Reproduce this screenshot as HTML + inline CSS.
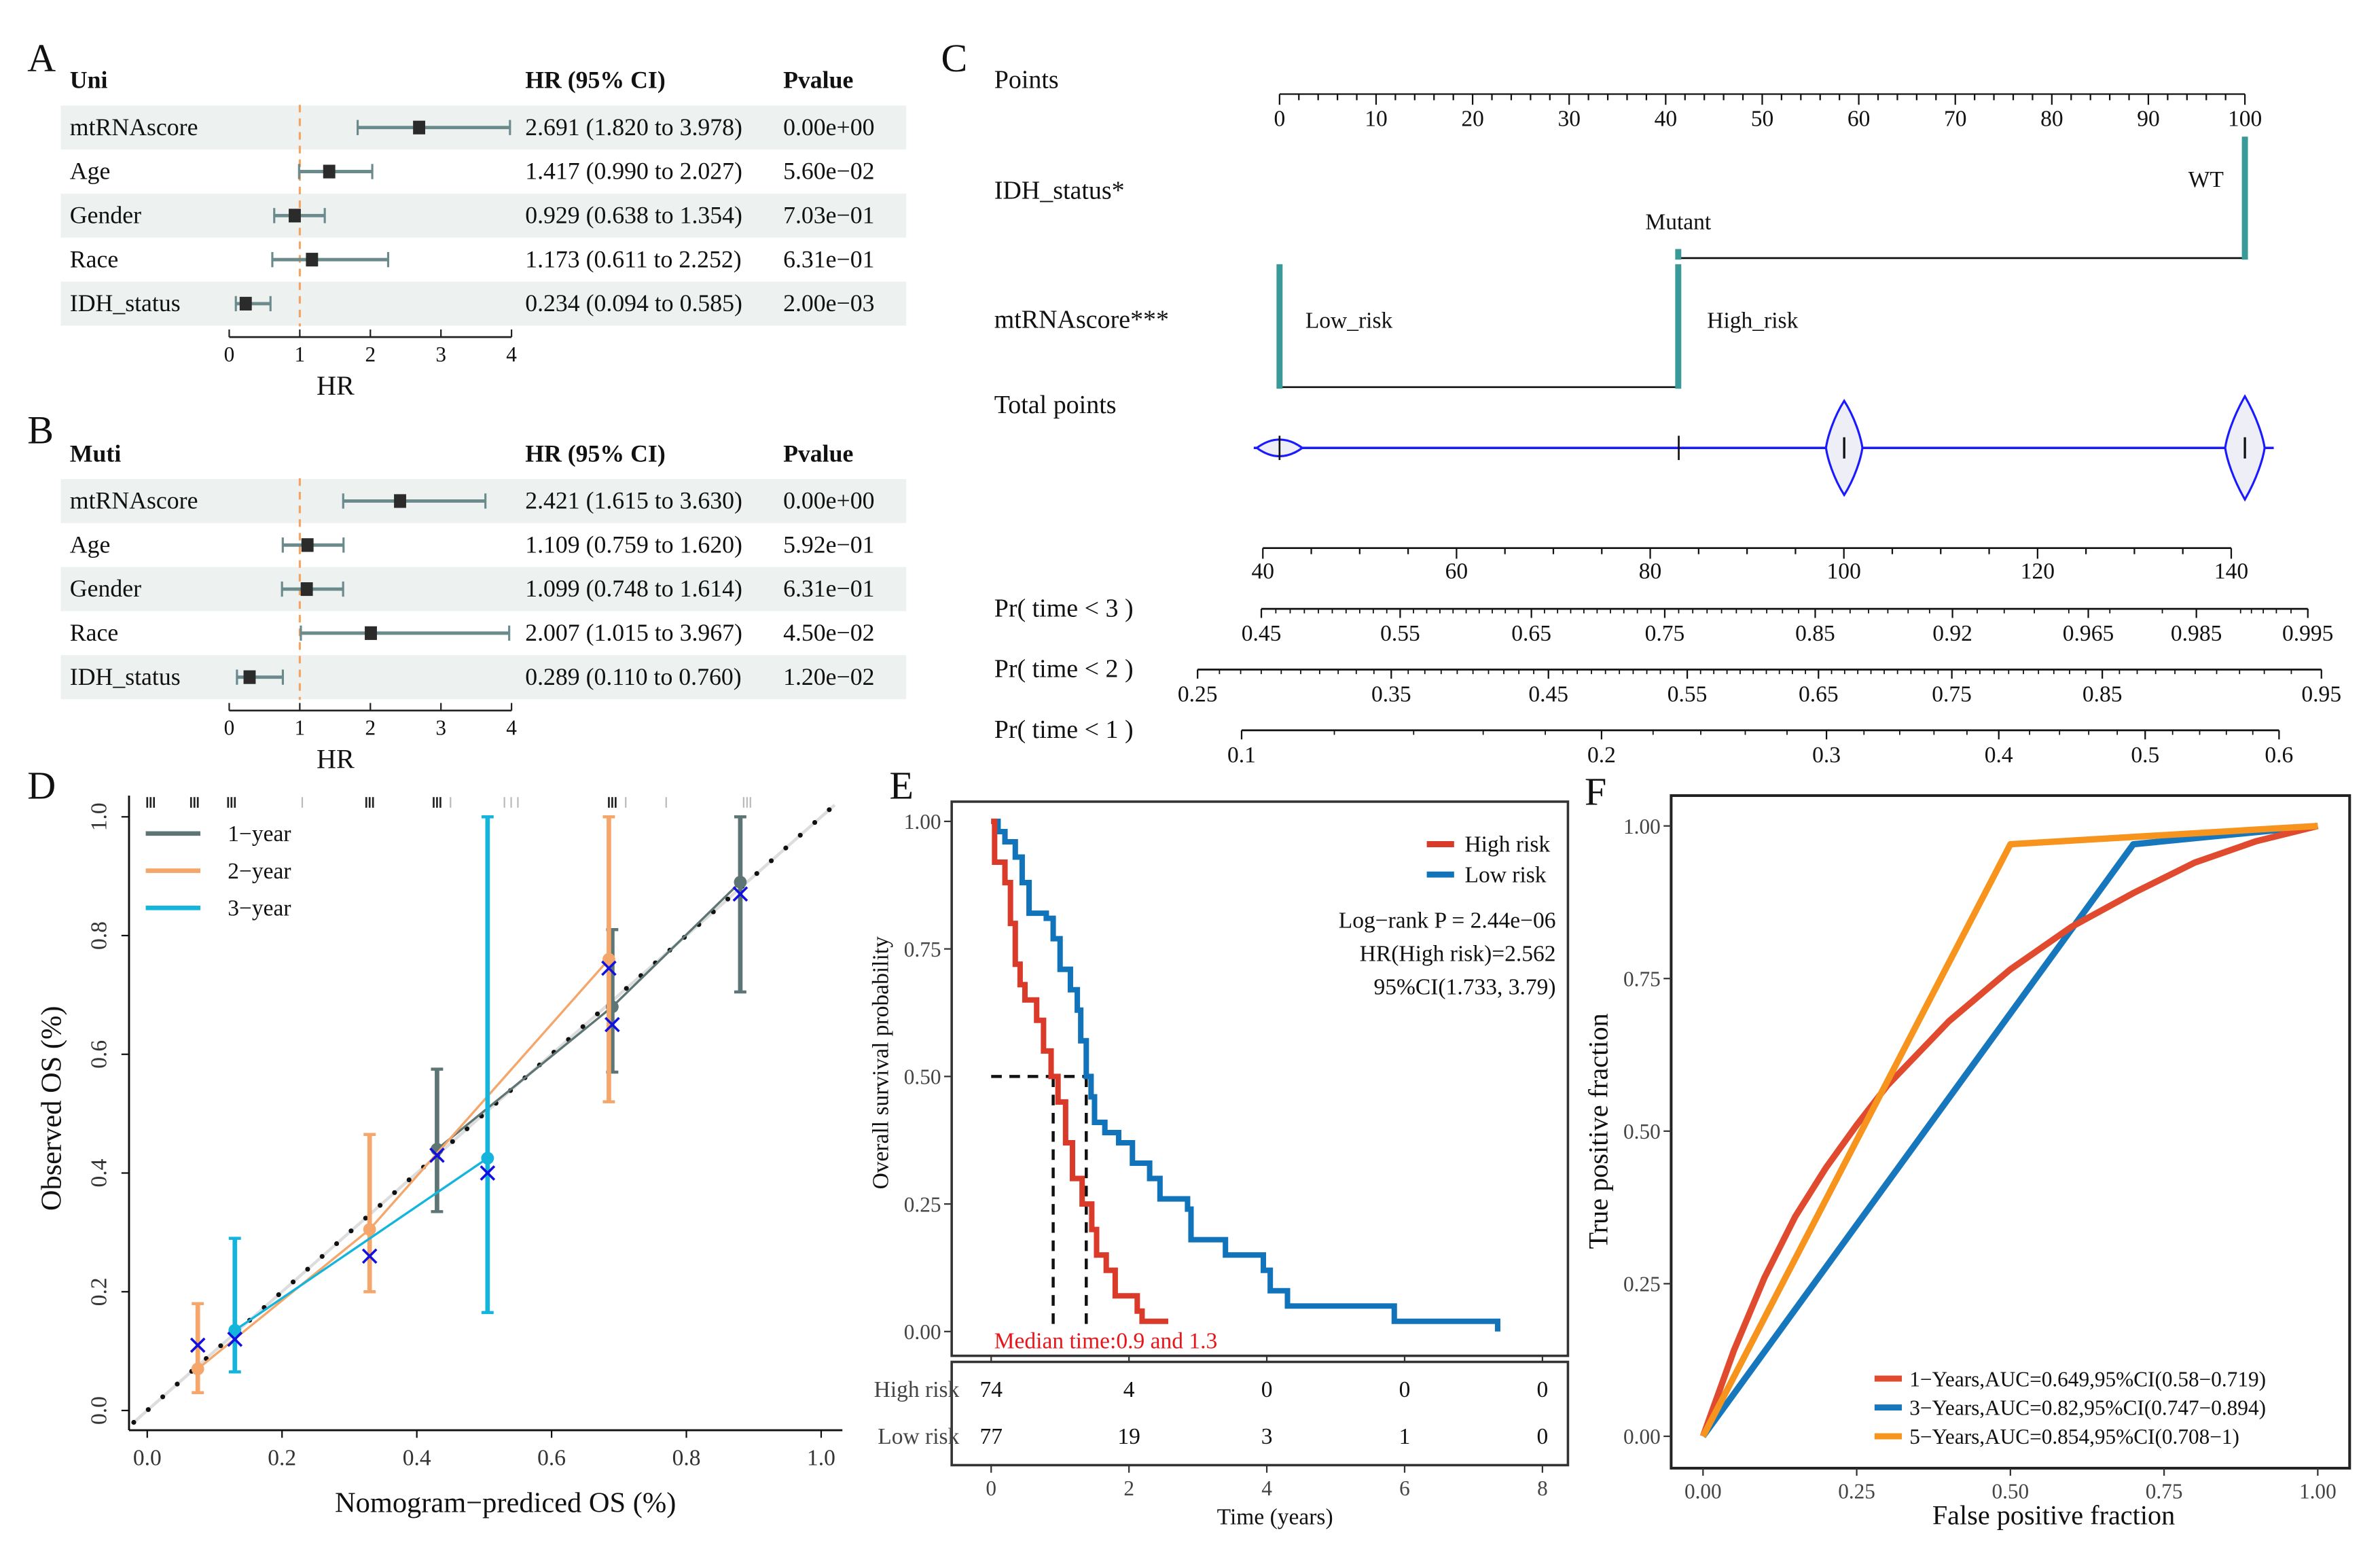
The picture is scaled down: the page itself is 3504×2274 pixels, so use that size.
<!DOCTYPE html>
<html><head><meta charset="utf-8">
<style>
html,body{margin:0;padding:0;background:#fff;}
svg{display:block;font-family:"Liberation Serif","DejaVu Serif",serif;}
</style></head>
<body>
<svg id="fig" xmlns="http://www.w3.org/2000/svg" width="3504" height="2274" viewBox="0 0 1568 1017.6"></svg>
<script>
// ---------- Forest data ----------
const uniLabels = ["mtRNAscore","Age","Gender","Race","IDH_status"];
const uniHR = [2.691,1.417,0.929,1.173,0.234];
const uniLo = [1.820,0.990,0.638,0.611,0.094];
const uniHi = [3.978,2.027,1.354,2.252,0.585];
const uniP = ["0.00e+00","5.60e\u221202","7.03e\u221201","6.31e\u221201","2.00e\u221203"];
const mutiLabels = ["mtRNAscore","Age","Gender","Race","IDH_status"];
const mutiHR = [2.421,1.109,1.099,2.007,0.289];
const mutiLo = [1.615,0.759,0.748,1.015,0.110];
const mutiHi = [3.630,1.620,1.614,3.967,0.760];
const mutiP = ["0.00e+00","5.92e\u221201","6.31e\u221201","4.50e\u221202","1.20e\u221202"];
const hrTicks = [0,1,2,3,4];
// ---------- Nomogram data ----------
const pointsTicks = [0,10,20,30,40,50,60,70,80,90,100];
const idhPoints = [41.3,100];
const idhLevels = ["Mutant","WT"];
const mtPoints = [0,41.3];
const mtLevels = ["Low_risk","High_risk"];
const totalTicks = [40,60,80,100,120,140];
const pr3Ticks = [0.45,0.55,0.65,0.75,0.85,0.92,0.965,0.985,0.995];
const pr2Ticks = [0.25,0.35,0.45,0.55,0.65,0.75,0.85,0.95];
const pr1Ticks = [0.1,0.2,0.3,0.4,0.5,0.6];
// ---------- Calibration data ----------
const calTicks = [0,0.2,0.4,0.6,0.8,1.0];
const cal1Pred = [0.43,0.69,0.88];
const cal1Obs = [0.44,0.68,0.89];
const cal1Lo = [0.335,0.57,0.705];
const cal1Hi = [0.575,0.81,1.0];
const cal2Pred = [0.075,0.33,0.685];
const cal2Obs = [0.07,0.305,0.76];
const cal2Lo = [0.03,0.2,0.52];
const cal2Hi = [0.18,0.465,1.0];
const cal3Pred = [0.13,0.505];
const cal3Obs = [0.135,0.425];
const cal3Lo = [0.065,0.165];
const cal3Hi = [0.29,1.0];
const xPred = [0.075,0.13,0.33,0.43,0.505,0.685,0.69,0.88];
const xObs = [0.11,0.12,0.26,0.43,0.40,0.745,0.65,0.87];
const rugDark = [0.0,0.005,0.01,0.065,0.07,0.075,0.12,0.125,0.13,0.325,0.33,0.335,0.425,0.43,0.435,0.685,0.69,0.695];
const rugLight = [0.23,0.45,0.53,0.54,0.55,0.71,0.77,0.885,0.89,0.895];
// ---------- KM data ----------
const hiT = [0.05,0.2,0.28,0.35,0.42,0.49,0.66,0.76,0.87,0.97,1.08,1.18,1.32,1.46,1.53,1.67,1.8,2.12,2.19];
const hiS = [0.92,0.88,0.80,0.72,0.68,0.65,0.61,0.55,0.50,0.45,0.37,0.30,0.25,0.20,0.15,0.12,0.07,0.04,0.02];
const hiEnd = 2.57;
const loT = [0.1,0.2,0.35,0.45,0.55,0.8,0.9,1.0,1.15,1.25,1.3,1.38,1.45,1.5,1.65,1.85,2.05,2.3,2.45,2.85,2.9,3.4,3.95,4.05,4.3,5.85,7.35];
const loS = [0.98,0.96,0.93,0.88,0.82,0.81,0.77,0.71,0.67,0.63,0.57,0.50,0.46,0.41,0.39,0.37,0.33,0.30,0.26,0.24,0.18,0.15,0.12,0.08,0.05,0.02,0.0];
const loEnd = 7.35;
const kmXTicks = [0,2,4,6,8];
const kmYTicks = [0,0.25,0.5,0.75,1.0];
const riskHigh = [74,4,0,0,0];
const riskLow = [77,19,3,1,0];
// ---------- ROC data ----------
const rocTicks = [0,0.25,0.5,0.75,1.0];
const roc1F = [0,0.05,0.1,0.15,0.2,0.25,0.3,0.4,0.5,0.6,0.7,0.8,0.9,1];
const roc1T = [0,0.14,0.26,0.36,0.44,0.51,0.575,0.68,0.765,0.835,0.89,0.94,0.975,1];
const roc3F = [0,0.7,1];
const roc3T = [0,0.97,1];
const roc5F = [0,0.5,1];
const roc5T = [0,0.97,1];
const rocLegend = ["1\u2212Years,AUC=0.649,95%CI(0.58\u22120.719)","3\u2212Years,AUC=0.82,95%CI(0.747\u22120.894)","5\u2212Years,AUC=0.854,95%CI(0.708\u22121)"];

const NS="http://www.w3.org/2000/svg";
const fig=document.getElementById('fig');
function tag(el,name,inter){
  
  
  return el;
}
function mk(t,a,parent){const e=document.createElementNS(NS,t);for(const k in a)e.setAttribute(k,a[k]);(parent||fig).appendChild(e);return e;}
function line(x1,y1,x2,y2,st,w,name,extra){const e=mk('line',Object.assign({x1,y1,x2,y2,stroke:st,'stroke-width':w},extra||{}));return tag(e,name);}
function text(x,y,s,sz,name,extra){const e=mk('text',Object.assign({x,y,'font-size':sz,fill:'#111'},extra||{}));e.textContent=s;return tag(e,name);}

// ---------- Panel labels ----------
[["A",18,47],["B",18,292],["C",620,47],["D",18,526],["E",586,526],["F",1044,530]].forEach(p=>{
  text(p[1],p[2],p[0],26,'panel-label-'+p[0].toLowerCase());
});

// ---------- Forest plots ----------
function forest(y0,title,labels,hr,lo,hi,pv,key){
  const hx=v=>151+v*46.5;
  text(46,y0+5,title,16,key+'-header-title',{'font-weight':'bold'});
  text(346,y0+5,"HR (95% CI)",16,key+'-header-hr',{'font-weight':'bold'});
  text(516,y0+5,"Pvalue",16,key+'-header-pvalue',{'font-weight':'bold'});
  labels.forEach((lab,i)=>{
    const cy=y0+31+i*29;
    if(i%2===0){const r=mk('rect',{x:40,y:cy-14.5,width:557,height:29,fill:'#edf1f0'});tag(r,key+'-row-shade');}
  });
  line(hx(1),y0+16,hx(1),y0+162,'#f4a460',1.4,key+'-reference-line',{'stroke-dasharray':'5,4'});
  labels.forEach((lab,i)=>{
    const cy=y0+31+i*29;
    text(46,cy+5,lab,16,key+'-row-label');
    line(hx(lo[i]),cy,hx(hi[i]),cy,'#6b8a8c',2.2,key+'-ci-line');
    line(hx(lo[i]),cy-5,hx(lo[i]),cy+5,'#6b8a8c',1.4,key+'-ci-cap');
    line(hx(hi[i]),cy-5,hx(hi[i]),cy+5,'#6b8a8c',1.4,key+'-ci-cap');
    const s=mk('rect',{x:hx(hr[i])-4,y:cy-4.5,width:8,height:9,fill:'#2b2b2b'});tag(s,key+'-hr-point');
    text(346,cy+5,hr[i].toFixed(3)+" ("+lo[i].toFixed(3)+" to "+hi[i].toFixed(3)+")",16,key+'-hr-text');
    text(516,cy+5,pv[i],16,key+'-pvalue-text');
  });
  const ay=y0+169;
  line(hx(0),ay,hx(4),ay,'#222',1.2,key+'-x-axis');
  hrTicks.forEach(t=>{line(hx(t),ay,hx(t),ay-5,'#222',1,key+'-x-tick');text(hx(t),ay+16,String(t),14,key+'-x-tick-label',{'text-anchor':'middle'});});
  text(221,ay+38,"HR",18,key+'-x-axis-title',{'text-anchor':'middle'});
}
forest(53,"Uni",uniLabels,uniHR,uniLo,uniHi,uniP,'uni-forest');
forest(299,"Muti",mutiLabels,mutiHR,mutiLo,mutiHi,mutiP,'muti-forest');

// ---------- Nomogram ----------
(function(){
  const px=v=>843+v*6.36;
  const tx=v=>832+(v-40)*6.38;
  const lab=(y,s,n)=>text(655,y,s,17,n);
  lab(58,"Points",'points-label');lab(131,"IDH_status*",'idh-label');lab(216,"mtRNAscore***",'mtrnascore-label');lab(272,"Total points",'total-points-label');
  lab(406,"Pr( time < 3 )",'pr3-label');lab(446,"Pr( time < 2 )",'pr2-label');lab(486,"Pr( time < 1 )",'pr1-label');
  line(px(0),62,px(100),62,'#111',1,'points-axis');
  for(let v=0;v<=100;v+=2){line(px(v),62,px(v),v%10===0?69:66,'#111',1,'points-tick');}
  pointsTicks.forEach(v=>text(px(v),83,String(v),15,'points-tick-label',{'text-anchor':'middle'}));
  line(px(idhPoints[0]),170,px(idhPoints[1]),170,'#111',1.2,'idh-axis');
  line(px(idhPoints[1]),90,px(idhPoints[1]),171,'#3a9a9a',4,'idh-wt-bar');
  line(px(idhPoints[0]),164,px(idhPoints[0]),171,'#3a9a9a',4,'idh-mutant-bar');
  text(px(idhPoints[1])-14,123,idhLevels[1],15,'idh-wt-label',{'text-anchor':'end'});
  text(px(idhPoints[0]),151,idhLevels[0],15,'idh-mutant-label',{'text-anchor':'middle'});
  line(px(mtPoints[0]),255,px(mtPoints[1]),255,'#111',1.2,'mtrnascore-axis');
  line(px(mtPoints[0]),174,px(mtPoints[0]),256,'#3a9a9a',4,'mtrnascore-low-bar');
  line(px(mtPoints[1]),174,px(mtPoints[1]),256,'#3a9a9a',4,'mtrnascore-high-bar');
  text(px(mtPoints[0])+17,216,mtLevels[0],15,'mtrnascore-low-label');
  text(px(mtPoints[1])+19,216,mtLevels[1],15,'mtrnascore-high-label');
  line(826,295,1498,295,'#1a1aff',1.6,'total-points-line');
  const v1=mk('path',{d:`M828,295 Q843,284 858,295 Q843,306 828,295 Z`,fill:'#eeeef6',stroke:'#1a1aff','stroke-width':1.4});tag(v1,'violin-low');
  line(843,287,843,303,'#111',1.2,'median-mark');
  line(1106,287,1106,303,'#111',1.2,'median-mark');
  const v2=mk('path',{d:`M1215,264 C1222,275 1226,288 1227,295 C1226,302 1222,315 1215,326 C1208,315 1204,302 1203,295 C1204,288 1208,275 1215,264 Z`,fill:'#eeeef6',stroke:'#1a1aff','stroke-width':1.4});tag(v2,'violin-mid');
  line(1215,288,1215,302,'#111',1.5,'median-mark');
  const v3=mk('path',{d:`M1479,261 C1487,275 1491,288 1492,295 C1491,302 1487,315 1479,329 C1471,315 1467,302 1466,295 C1467,288 1471,275 1479,261 Z`,fill:'#eeeef6',stroke:'#1a1aff','stroke-width':1.4});tag(v3,'violin-high');
  line(1479,288,1479,302,'#111',1.5,'median-mark');
  line(tx(40),361,tx(140),361,'#111',1.2,'total-points-axis');
  for(let v=40;v<=140;v+=5){line(tx(v),361,tx(v),v%20===0?368:365,'#111',1,'total-points-tick');}
  totalTicks.forEach(v=>text(tx(v),381,String(v),15,'total-points-tick-label',{'text-anchor':'middle'}));
  const g=p=>Math.log(-Math.log(1-p));
  function prAxis(y,ticks,x0,p0,key,minor){
    const f=p=>x0+316*(g(p)-g(p0));
    const pmin=ticks[0],pmax=ticks[ticks.length-1];
    line(f(pmin),y,f(pmax),y,'#111',1.2,key+'-axis');
    minor.forEach(p=>{if(p>=pmin-1e-9&&p<=pmax+1e-9)line(f(p),y,f(p),y+3,'#111',0.8,key+'-minor-tick');});
    ticks.forEach(p=>{line(f(p),y,f(p),y+6,'#111',1,key+'-tick');text(f(p),y+21,String(p),15,key+'-tick-label',{'text-anchor':'middle'});});
  }
  const m3=[];for(let p=0.45;p<0.99;p+=0.01)m3.push(+p.toFixed(3));for(let p=0.99;p<=0.995;p+=0.001)m3.push(+p.toFixed(4));
  const m2=[];for(let p=0.25;p<=0.95;p+=0.01)m2.push(+p.toFixed(3));
  const m1=[];for(let p=0.1;p<=0.6;p+=0.02)m1.push(+p.toFixed(3));
  prAxis(401,pr3Ticks,831,0.45,'pr3',m3);
  prAxis(441,pr2Ticks,789,0.25,'pr2',m2);
  prAxis(481,pr1Ticks,818,0.1,'pr1',m1);
})();

// ---------- Calibration (D) ----------
(function(){
  const X=v=>97+v*444, Y=v=>929-v*391;
  line(85,524,85,942,'#111',1.3,'calib-y-axis');
  line(85,942,555,942,'#111',1.3,'calib-x-axis');
  calTicks.forEach(t=>{
    line(X(t),942,X(t),947,'#111',1,'calib-x-tick');
    text(X(t),965,t.toFixed(1),15,'calib-x-tick-label',{'text-anchor':'middle','fill':'#333'});
    line(85,Y(t),80,Y(t),'#111',1,'calib-y-tick');
    const tl=text(70,Y(t),t.toFixed(1),15,'calib-y-tick-label',{'text-anchor':'middle','fill':'#333'});
    tl.setAttribute('transform',`rotate(-90 70 ${Y(t)})`);
  });
  text(333,996,"Nomogram\u2212prediced OS (%)",19,'calib-x-axis-title',{'text-anchor':'middle'});
  const yt=text(40,730,"Observed OS (%)",19,'calib-y-axis-title',{'text-anchor':'middle'});
  yt.setAttribute('transform','rotate(-90 40 730)');
  rugDark.forEach(v=>line(X(v),525,X(v),532,'#222',1.2,'calib-rug-tick'));
  rugLight.forEach(v=>line(X(v),525,X(v),532,'#bbb',1,'calib-rug-tick-light'));
  line(X(-0.02),Y(-0.02),X(1.02),Y(1.02),'#ddd',2,'ideal-line');
  for(let v=-0.02;v<=1.025;v+=0.0215){const c=mk('circle',{cx:X(v),cy:Y(v),r:1.6,fill:'#111'});tag(c,'ideal-dot');}
  function series(pred,obs,lo,hi,col,key,w){
    const d=pred.map((p,i)=>(i?'L':'M')+X(p)+','+Y(obs[i])).join(' ');
    const pth=mk('path',{d,fill:'none',stroke:col,'stroke-width':1.5});tag(pth,key+'-line');
    pred.forEach((p,i)=>{
      line(X(p),Y(lo[i]),X(p),Y(hi[i]),col,w,key+'-error-bar');
      line(X(p)-4,Y(lo[i]),X(p)+4,Y(lo[i]),col,2,key+'-error-cap');
      line(X(p)-4,Y(hi[i]),X(p)+4,Y(hi[i]),col,2,key+'-error-cap');
      const c=mk('circle',{cx:X(p),cy:Y(obs[i]),r:4.2,fill:col});tag(c,key+'-point');
    });
  }
  series(cal1Pred,cal1Obs,cal1Lo,cal1Hi,'#5e7576','calib-1year',3);
  series(cal2Pred,cal2Obs,cal2Lo,cal2Hi,'#f5a66a','calib-2year',3);
  series(cal3Pred,cal3Obs,cal3Lo,cal3Hi,'#13b5dd','calib-3year',3);
  xPred.forEach((p,i)=>{const cx=X(p),cy=Y(xObs[i]);
    line(cx-4.5,cy-4.5,cx+4.5,cy+4.5,'#1010e0',1.6,'calib-x-marker');
    line(cx-4.5,cy+4.5,cx+4.5,cy-4.5,'#1010e0',1.6,'calib-x-marker');});
  [["1\u2212year",'#5e7576'],["2\u2212year",'#f5a66a'],["3\u2212year",'#13b5dd']].forEach((l,i)=>{
    const y=549+i*24.5;
    line(96,y,132,y,l[1],3,'calib-legend-swatch');
    text(150,y+5,l[0],15,'calib-legend-entry');
  });
})();

// ---------- KM (E) ----------
(function(){
  const X=t=>653+t*45.4, Y=s=>877-s*336;
  const fr=mk('rect',{x:627,y:528,width:406,height:365,fill:'none',stroke:'#333','stroke-width':1.6});tag(fr,'km-plot-frame');
  const fr2=mk('rect',{x:627,y:897,width:406,height:68,fill:'none',stroke:'#333','stroke-width':1.6});tag(fr2,'risk-table-frame');
  kmYTicks.forEach(v=>{line(627,Y(v),622,Y(v),'#333',1,'km-y-tick');text(620,Y(v)+5,v.toFixed(2),14,'km-y-tick-label',{'text-anchor':'end','fill':'#444'});});
  kmXTicks.forEach(v=>{line(X(v),893,X(v),897,'#333',1,'km-x-tick');line(X(v),965,X(v),970,'#333',1,'km-x-tick');text(X(v),985,String(v),14,'km-x-tick-label',{'text-anchor':'middle','fill':'#444'});});
  text(840,1004,"Time (years)",15,'km-x-axis-title',{'text-anchor':'middle'});
  const yl=text(585,700,"Overall survival probability",15,'km-y-axis-title',{'text-anchor':'middle'});
  yl.setAttribute('transform','rotate(-90 585 700)');
  const ml=mk('path',{d:`M${X(0)},${Y(0.5)} H${X(1.38)} M${X(0.9)},${Y(0.5)} V${Y(0)} M${X(1.38)},${Y(0.5)} V${Y(0)}`,stroke:'#111','stroke-width':2,'stroke-dasharray':'7,5',fill:'none'});
  tag(ml,'median-lines');
  function step(T,S,end,col,key){
    let d=`M${X(0)},${Y(1)}`;
    T.forEach((t,i)=>{d+=` H${X(t)} V${Y(S[i])}`;});
    d+=` H${X(end)}`;
    const p=mk('path',{d,fill:'none',stroke:col,'stroke-width':3.6,'stroke-linejoin':'miter'});tag(p,key);
  }
  step(loT,loS,loEnd,'#1173b9','km-low-risk-curve');
  step(hiT,hiS,hiEnd,'#d93a29','km-high-risk-curve');
  text(655,888,"Median time:0.9 and 1.3",15,'median-time-label',{'fill':'#e8151b'});
  line(940,556,958,556,'#d93a29',4,'km-legend-swatch-high');
  text(965,561,"High risk",15,'km-legend-high');
  line(940,576,958,576,'#1173b9',4,'km-legend-swatch-low');
  text(965,581,"Low risk",15,'km-legend-low');
  text(1025,611,"Log\u2212rank P = 2.44e\u221206",15,'km-logrank-text',{'text-anchor':'end'});
  text(1025,633,"HR(High risk)=2.562",15,'km-hr-text',{'text-anchor':'end'});
  text(1025,655,"95%CI(1.733, 3.79)",15,'km-ci-text',{'text-anchor':'end'});
  text(632,920,"High risk",15,'risk-row-high-label',{'text-anchor':'end','fill':'#444'});
  text(632,951,"Low risk",15,'risk-row-low-label',{'text-anchor':'end','fill':'#444'});
  kmXTicks.forEach((t,i)=>{
    text(X(t),920,String(riskHigh[i]),15,'risk-high-count',{'text-anchor':'middle'});
    text(X(t),951,String(riskLow[i]),15,'risk-low-count',{'text-anchor':'middle'});
  });
})();

// ---------- ROC (F) ----------
(function(){
  const X=v=>1122+v*405, Y=v=>946-v*402;
  const fr=mk('rect',{x:1101,y:524,width:447,height:443,fill:'none',stroke:'#222','stroke-width':1.8});tag(fr,'roc-plot-frame');
  rocTicks.forEach(v=>{
    line(X(v),967,X(v),972,'#333',1,'roc-x-tick');
    text(X(v),987,v.toFixed(2),14,'roc-x-tick-label',{'text-anchor':'middle','fill':'#444'});
    line(1101,Y(v),1096,Y(v),'#333',1,'roc-y-tick');
    text(1094,Y(v)+5,v.toFixed(2),14,'roc-y-tick-label',{'text-anchor':'end','fill':'#444'});
  });
  text(1353,1004,"False positive fraction",18,'roc-x-axis-title',{'text-anchor':'middle'});
  const yl=text(1059,745,"True positive fraction",18,'roc-y-axis-title',{'text-anchor':'middle'});
  yl.setAttribute('transform','rotate(-90 1059 745)');
  function curve(F,T,col,key){
    const d=F.map((f,i)=>(i?'L':'M')+X(f)+','+Y(T[i])).join(' ');
    const p=mk('path',{d,fill:'none',stroke:col,'stroke-width':4.2,'stroke-linejoin':'round'});tag(p,key);
  }
  curve(roc3F,roc3T,'#1677bd','roc-3year-curve');
  curve(roc1F,roc1T,'#e04a2e','roc-1year-curve');
  curve(roc5F,roc5T,'#f7941d','roc-5year-curve');
  const cols=['#e04a2e','#1677bd','#f7941d'];
  rocLegend.forEach((s,i)=>{
    const y=908+i*19;
    line(1235,y,1253,y,cols[i],4,'roc-legend-swatch');
    text(1258,y+5,s,14,'roc-legend-entry');
  });
})();
</script>
</body></html>
